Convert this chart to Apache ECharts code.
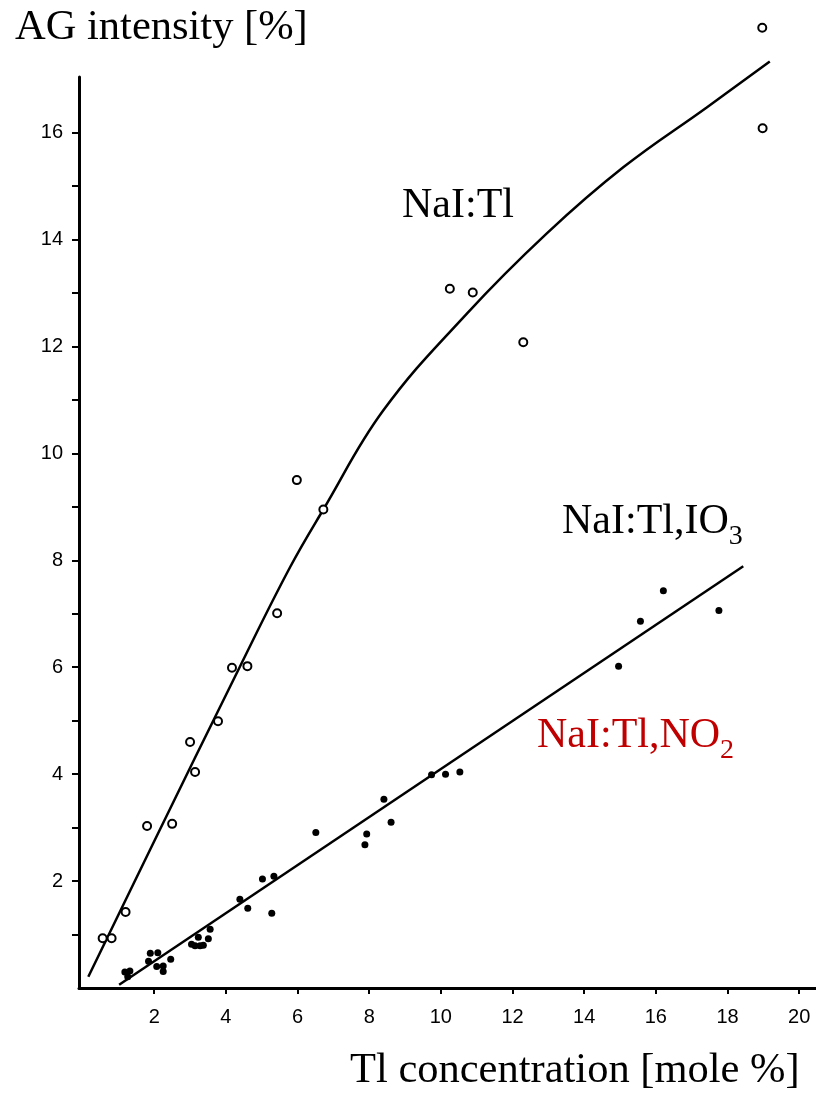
<!DOCTYPE html>
<html>
<head>
<meta charset="utf-8">
<script src="https://cdn.jsdelivr.net/npm/echarts@6/dist/echarts.min.js"></script>
<style>
  html, body { margin: 0; padding: 0; background: #fff; }
  #chart { width: 816px; height: 1093px; }
</style>
</head>
<body>
<div id="chart"></div>
<script>
// ---------- data ----------
const xTicks = [2, 4, 6, 8, 10, 12, 14, 16, 18, 20];
const yTicks = [1, 2, 3, 4, 5, 6, 7, 8, 9, 10, 11, 12, 13, 14, 15, 16];
const yTickLabels = [2, 4, 6, 8, 10, 12, 14, 16];

// NaI:Tl open circles
const naiTlX = [0.56, 0.81, 1.20, 1.80, 2.50, 3.00, 3.14, 3.78, 4.17, 4.60, 5.43, 5.98, 6.72, 10.25, 10.89, 12.30, 18.97, 18.98];
const naiTlY = [0.93, 0.93, 1.42, 3.03, 3.07, 4.60, 4.04, 4.99, 5.99, 6.02, 7.01, 9.50, 8.95, 13.08, 13.01, 12.08, 17.96, 16.08];

// NaI:Tl fitted curve
const naiTlFitX = [0.16, 1.88, 4.39, 5.79, 6.72, 8.39, 10.72, 12.95, 15.09, 17.42, 19.18];
const naiTlFitY = [0.21, 2.58, 6.01, 7.87, 8.95, 10.80, 12.61, 14.11, 15.35, 16.47, 17.33];

// NaI:Tl,NO2 / IO3 filled dots
const no2X = [1.18, 1.32, 1.26, 1.84, 1.89, 2.10, 2.07, 2.25, 2.25, 2.46, 3.04, 3.14, 3.28, 3.37, 3.23, 3.51, 3.56, 4.39, 4.61, 5.02, 5.34, 5.28, 6.51, 7.93, 7.88, 8.41, 8.61, 9.74, 10.13, 10.53, 14.96, 15.57, 16.21, 17.76];
const no2Y = [0.30, 0.32, 0.21, 0.50, 0.65, 0.66, 0.40, 0.41, 0.31, 0.54, 0.82, 0.79, 0.79, 0.80, 0.95, 0.92, 1.10, 1.66, 1.49, 2.04, 2.09, 1.40, 2.91, 2.88, 2.68, 3.53, 3.10, 3.99, 4.00, 4.04, 6.02, 6.86, 7.43, 7.06];

// fitted line for doped crystals
const no2FitX = [1.02, 18.44];
const no2FitY = [0.06, 7.89];

// ---------- helpers ----------
const zip = (xs, ys) => xs.map((x, i) => [x, ys[i]]);
const SERIF = '"Liberation Serif", "Times New Roman", serif';
const SANS = '"Liberation Sans", Arial, sans-serif';
const mctx = document.createElement('canvas').getContext('2d');
function textWidth(t, size) { mctx.font = size + 'px ' + SERIF; return mctx.measureText(t).width; }
const BIG = 42, NAME = 42.5, SUB = 28, MID = 0.3375;

function txt(t, x, baseline, size, color) {
  return {
    type: 'text', x: x, y: baseline - MID * size, silent: true,
    style: {
      text: t, font: size + 'px ' + SERIF, fill: color,
      textAlign: 'left', textVerticalAlign: 'middle', align: 'left', verticalAlign: 'middle'
    }
  };
}
function subLabel(main, sub, x, baseline, color) {
  const w = textWidth(main, BIG);
  return [txt(main, x, baseline, BIG, color), txt(sub, x + w, baseline + 10, SUB, color)];
}

const graphics = [
  txt('AG intensity [%]', 15, 42, NAME, '#000'),
  txt('Tl concentration [mole %]', 350, 1085, NAME, '#000'),
  txt('NaI:Tl', 402, 220, BIG, '#000'),
  ...subLabel('NaI:Tl,IO', '3', 562, 536, '#000'),
  ...subLabel('NaI:Tl,NO', '2', 537, 750, '#C00000')
];

const chart = echarts.init(document.getElementById('chart'), null, { renderer: 'canvas' });
chart.setOption({
  animation: false,
  backgroundColor: '#fff',
  grid: { left: 79, right: 0, top: 77, bottom: 105 },
  xAxis: {
    type: 'value', min: -0.1, max: 20.47,
    axisLine: { show: true, onZero: false, lineStyle: { color: '#000', width: 3 } },
    axisTick: { show: true, customValues: xTicks, length: 6, lineStyle: { color: '#000', width: 2 } },
    axisLabel: { customValues: xTicks, color: '#000', fontSize: 20, fontFamily: SANS, margin: 19 },
    splitLine: { show: false }
  },
  yAxis: {
    type: 'value', min: 0, max: 17.04,
    axisLine: { show: true, onZero: false, lineStyle: { color: '#000', width: 3 } },
    axisTick: { show: true, customValues: yTicks, length: 7, lineStyle: { color: '#000', width: 2 } },
    axisLabel: { customValues: yTickLabels, color: '#000', fontSize: 20, fontFamily: SANS, margin: 16 },
    splitLine: { show: false }
  },
  series: [
    {
      type: 'line', data: zip(naiTlFitX, naiTlFitY), showSymbol: false, smooth: 0.4, clip: false,
      lineStyle: { color: '#000', width: 2.5 }, z: 2
    },
    {
      type: 'line', data: zip(no2FitX, no2FitY), showSymbol: false, clip: false,
      lineStyle: { color: '#000', width: 2.5 }, z: 2
    },
    {
      type: 'scatter', data: zip(naiTlX, naiTlY), symbol: 'circle', symbolSize: 8, clip: false,
      itemStyle: { color: '#fff', borderColor: '#000', borderWidth: 2, opacity: 1 }, z: 3
    },
    {
      type: 'scatter', data: zip(no2X, no2Y), symbol: 'circle', symbolSize: 7, clip: false,
      itemStyle: { color: '#000', opacity: 1 }, z: 3
    }
  ],
  graphic: graphics
});
</script>
</body>
</html>
